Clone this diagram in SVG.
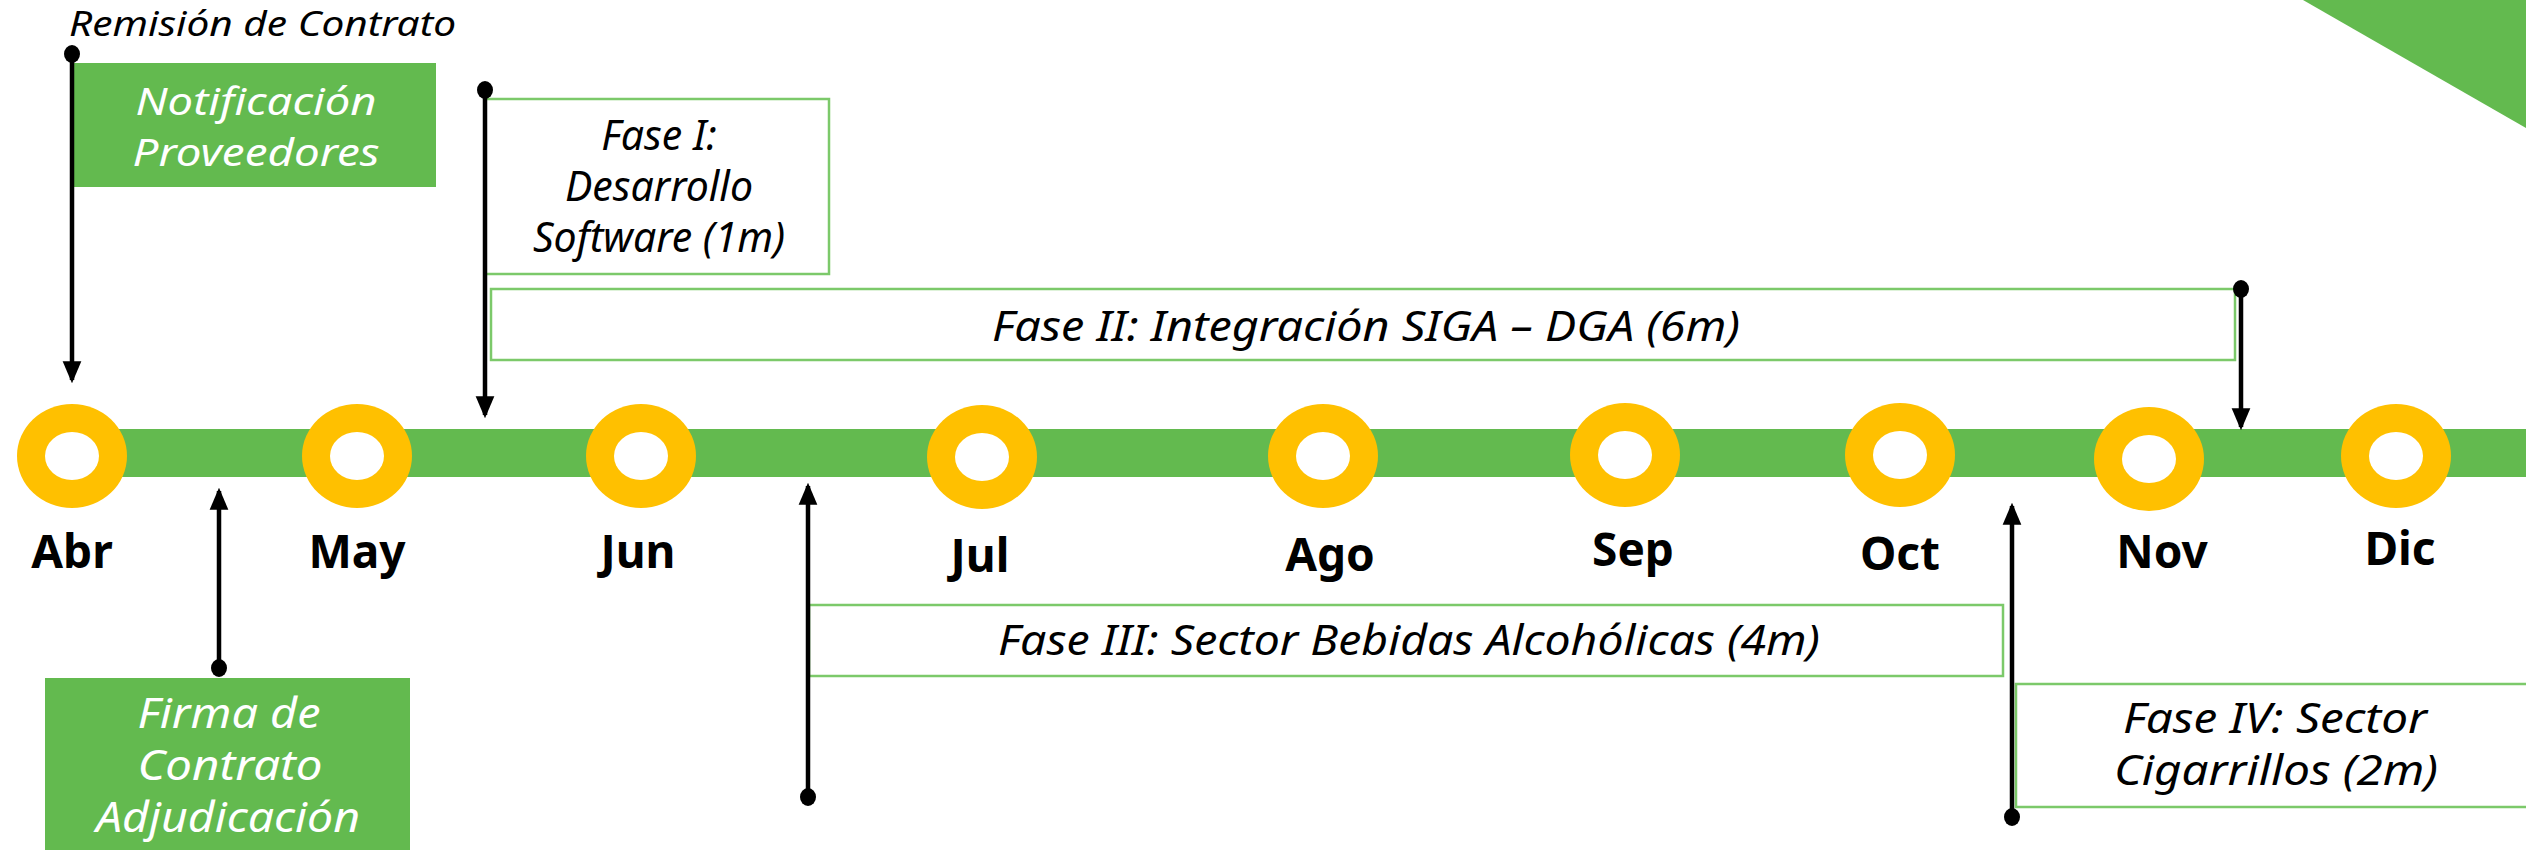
<svg xmlns="http://www.w3.org/2000/svg" width="2526" height="850" viewBox="0 0 2526 850">
<style>
.it{font-family:"Noto Sans","Open Sans",sans-serif;font-style:italic;font-size:41px;fill:#000;text-anchor:middle}
.wt{fill:#fff}
.sm{font-size:38px}
.mo{font-family:"Noto Sans","Open Sans",sans-serif;font-weight:bold;font-size:46px;fill:#000;text-anchor:middle}
.gbox{fill:#63BA4F}
.wbox{fill:#fff;stroke:#7CC96A;stroke-width:2.5}
.ring{fill:#FFC000}
.hole{fill:#fff}
.conn{stroke:#000;stroke-width:4.5;fill:none;marker-start:url(#dot);marker-end:url(#arr)}
</style>
<defs>
<marker id="arr" markerUnits="userSpaceOnUse" markerWidth="22" markerHeight="20" viewBox="0 0 20 17" refX="17" refY="8.5" orient="auto">
<path d="M0,0 L20,8.5 L0,17 z" fill="#000"/>
</marker>
<marker id="dot" markerUnits="userSpaceOnUse" markerWidth="20" markerHeight="20" viewBox="-10 -10 20 20" refX="0" refY="0" orient="auto">
<ellipse cx="0" cy="0" rx="9" ry="8" fill="#000"/>
</marker>
</defs>
<rect width="2526" height="850" fill="#fff"/>
<polygon points="2303,0 2526,0 2526,128" fill="#63BA4F"/>

<g id="timeline">
<rect x="72" y="429" width="2454" height="48" fill="#63BA4F"/>
</g>
<g id="m-abr"><ellipse class="ring" cx="72" cy="456" rx="55" ry="52"/><ellipse class="hole" cx="72" cy="456" rx="27" ry="24"/><text class="mo" x="72" y="568">Abr</text></g>
<g id="m-may"><ellipse class="ring" cx="357" cy="456" rx="55" ry="52"/><ellipse class="hole" cx="357" cy="456" rx="27" ry="24"/><text class="mo" x="357" y="568">May</text></g>
<g id="m-jun"><ellipse class="ring" cx="641" cy="456" rx="55" ry="52"/><ellipse class="hole" cx="641" cy="456" rx="27" ry="24"/><text class="mo" x="638" y="568">Jun</text></g>
<g id="m-jul"><ellipse class="ring" cx="982" cy="457" rx="55" ry="52"/><ellipse class="hole" cx="982" cy="457" rx="27" ry="24"/><text class="mo" x="980" y="572">Jul</text></g>
<g id="m-ago"><ellipse class="ring" cx="1323" cy="456" rx="55" ry="52"/><ellipse class="hole" cx="1323" cy="456" rx="27" ry="24"/><text class="mo" x="1330" y="571">Ago</text></g>
<g id="m-sep"><ellipse class="ring" cx="1625" cy="455" rx="55" ry="52"/><ellipse class="hole" cx="1625" cy="455" rx="27" ry="24"/><text class="mo" x="1633" y="566">Sep</text></g>
<g id="m-oct"><ellipse class="ring" cx="1900" cy="455" rx="55" ry="52"/><ellipse class="hole" cx="1900" cy="455" rx="27" ry="24"/><text class="mo" x="1900" y="570">Oct</text></g>
<g id="m-nov"><ellipse class="ring" cx="2149" cy="459" rx="55" ry="52"/><ellipse class="hole" cx="2149" cy="459" rx="27" ry="24"/><text class="mo" x="2162" y="568">Nov</text></g>
<g id="m-dic"><ellipse class="ring" cx="2396" cy="456" rx="55" ry="52"/><ellipse class="hole" cx="2396" cy="456" rx="27" ry="24"/><text class="mo" x="2400" y="565">Dic</text></g>

<g id="remision"><text class="it" x="69" y="36" style="text-anchor:start;font-size:34px" textLength="387" lengthAdjust="spacingAndGlyphs">Remisión de Contrato</text></g>
<g id="notificacion">
<rect class="gbox" x="70" y="63" width="366" height="124"/>
<text class="it wt sm" x="256" y="115" textLength="241" lengthAdjust="spacingAndGlyphs">Notificación</text>
<text class="it wt sm" x="256" y="166" textLength="247" lengthAdjust="spacingAndGlyphs">Proveedores</text>
</g>
<g id="fase1">
<rect class="wbox" x="485" y="99" width="344" height="175"/>
<text class="it" x="659" y="150">Fase I:</text>
<text class="it" x="659" y="201">Desarrollo</text>
<text class="it" x="659" y="252">Software (1m)</text>
</g>
<g id="fase2">
<rect class="wbox" x="491" y="289" width="1744" height="71"/>
<text class="it" x="1366" y="341" textLength="748" lengthAdjust="spacingAndGlyphs">Fase II: Integración SIGA – DGA (6m)</text>
</g>
<g id="firma">
<rect class="gbox" x="45" y="678" width="365" height="180"/>
<text class="it wt" x="229" y="728" textLength="183" lengthAdjust="spacingAndGlyphs">Firma de</text>
<text class="it wt" x="230" y="780" textLength="185" lengthAdjust="spacingAndGlyphs">Contrato</text>
<text class="it wt" x="228" y="832" textLength="264" lengthAdjust="spacingAndGlyphs">Adjudicación</text>
</g>
<g id="fase3">
<rect class="wbox" x="809" y="605" width="1194" height="71"/>
<text class="it" x="1409" y="655" textLength="822" lengthAdjust="spacingAndGlyphs">Fase III: Sector Bebidas Alcohólicas (4m)</text>
</g>
<g id="fase4">
<rect class="wbox" x="2016" y="684" width="530" height="123"/>
<text class="it" x="2275" y="733" textLength="304" lengthAdjust="spacingAndGlyphs">Fase IV: Sector</text>
<text class="it" x="2276" y="785" textLength="324" lengthAdjust="spacingAndGlyphs">Cigarrillos (2m)</text>
</g>

<g id="connectors">
<line class="conn" x1="72" y1="54" x2="72" y2="380"/>
<line class="conn" x1="485" y1="90" x2="485" y2="415"/>
<line class="conn" x1="2241" y1="289" x2="2241" y2="427"/>
<line class="conn" x1="219" y1="668" x2="219" y2="491"/>
<line class="conn" x1="808" y1="797" x2="808" y2="486"/>
<line class="conn" x1="2012" y1="817" x2="2012" y2="506"/>
</g>
</svg>
